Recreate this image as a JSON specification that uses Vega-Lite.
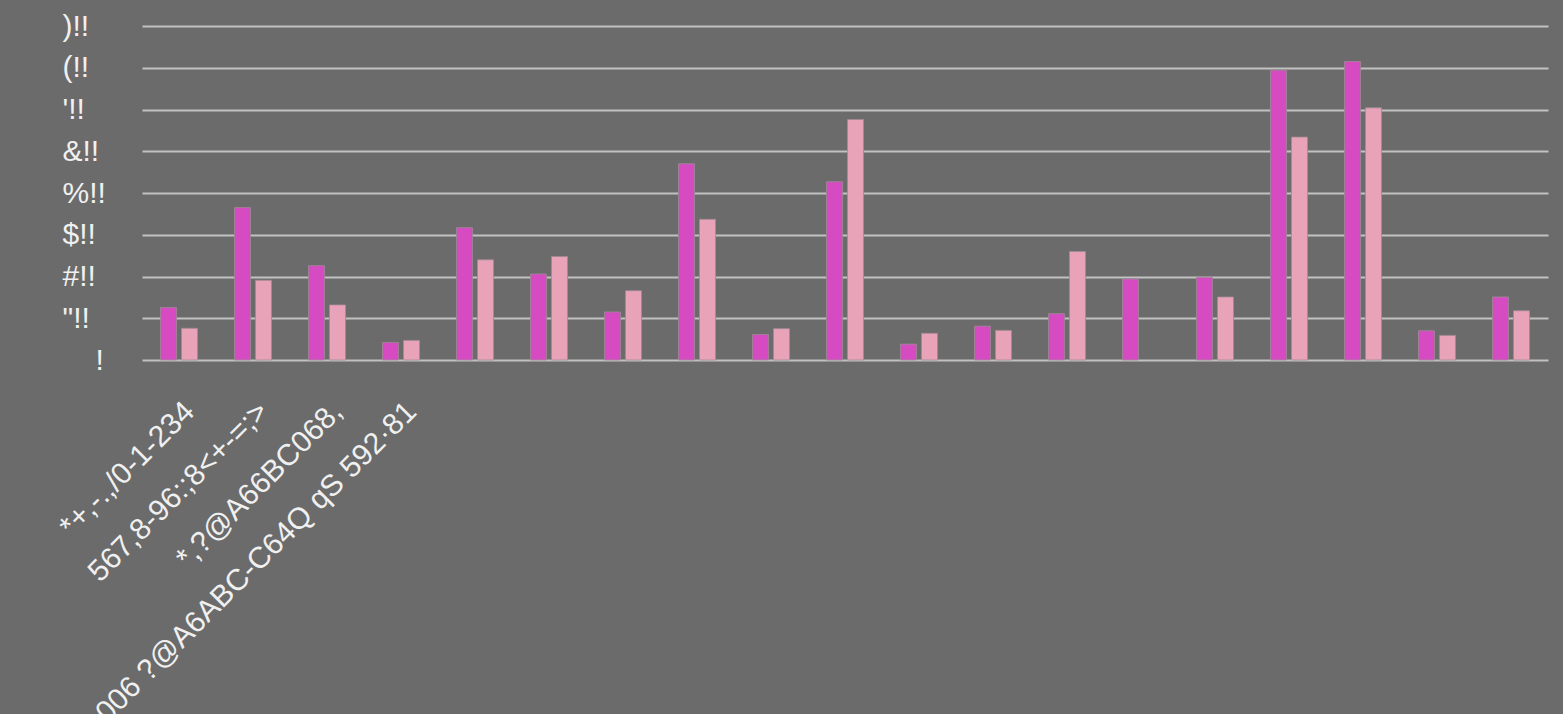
{
  "$schema": "https://vega.github.io/schema/vega-lite/v6.json",
  "width": 1406,
  "height": 334,
  "autosize": "none",
  "padding": {"left": 142, "top": 26, "right": 15, "bottom": 354},
  "background": "#6B6B6B",
  "config": {"view": {"stroke": null}, "font": "Liberation Sans"},
  "data": {
    "values": [
      {"g": 1, "s": "A", "v": 126}, {"g": 1, "s": "B", "v": 76},
      {"g": 2, "s": "A", "v": 365}, {"g": 2, "s": "B", "v": 191},
      {"g": 3, "s": "A", "v": 226}, {"g": 3, "s": "B", "v": 132},
      {"g": 4, "s": "A", "v": 42}, {"g": 4, "s": "B", "v": 47},
      {"g": 5, "s": "A", "v": 317}, {"g": 5, "s": "B", "v": 240},
      {"g": 6, "s": "A", "v": 206}, {"g": 6, "s": "B", "v": 248},
      {"g": 7, "s": "A", "v": 115}, {"g": 7, "s": "B", "v": 166},
      {"g": 8, "s": "A", "v": 470}, {"g": 8, "s": "B", "v": 337},
      {"g": 9, "s": "A", "v": 61}, {"g": 9, "s": "B", "v": 75},
      {"g": 10, "s": "A", "v": 427}, {"g": 10, "s": "B", "v": 576},
      {"g": 11, "s": "A", "v": 38}, {"g": 11, "s": "B", "v": 64},
      {"g": 12, "s": "A", "v": 81}, {"g": 12, "s": "B", "v": 71},
      {"g": 13, "s": "A", "v": 111}, {"g": 13, "s": "B", "v": 260},
      {"g": 14, "s": "A", "v": 194},
      {"g": 15, "s": "A", "v": 198}, {"g": 15, "s": "B", "v": 151},
      {"g": 16, "s": "A", "v": 694}, {"g": 16, "s": "B", "v": 534},
      {"g": 17, "s": "A", "v": 715}, {"g": 17, "s": "B", "v": 604},
      {"g": 18, "s": "A", "v": 70}, {"g": 18, "s": "B", "v": 59},
      {"g": 19, "s": "A", "v": 151}, {"g": 19, "s": "B", "v": 118}
    ]
  },
  "mark": {"type": "bar", "stroke": "#A08A96", "strokeWidth": 0.8},
  "encoding": {
    "x": {
      "field": "g",
      "type": "ordinal",
      "scale": {"paddingInner": 0.5, "paddingOuter": 0.25},
      "axis": {
        "title": null,
        "labelAngle": -45,
        "labelFontSize": 30,
        "labelColor": "#F0F0F0",
        "labelPadding": 36,
        "labelLimit": 2000,
        "labelOverlap": false,
        "ticks": false,
        "domain": false,
        "grid": false,
        "labelExpr": "['*+,-.,/0-1-234', '567,8-96:;8<+-=;>', '*,?@A66BC068,', '266·1006 ?@A6ABC-C64Q qS 592·81'][datum.value - 1] || ''"
      }
    },
    "xOffset": {"field": "s", "scale": {"paddingInner": 0.24}},
    "y": {
      "field": "v",
      "type": "quantitative",
      "scale": {"domain": [0, 800]},
      "axis": {
        "title": null,
        "values": [0, 100, 200, 300, 400, 500, 600, 700, 800],
        "grid": true,
        "gridColor": "#C2C2C2",
        "gridWidth": 2,
        "domain": false,
        "ticks": false,
        "labelAlign": "left",
        "labelPadding": {"condition": {"test": "datum.value === 0", "value": 47}, "value": 80},
        "labelFontSize": 30,
        "labelColor": "#F0F0F0",
        "labelExpr": "datum.value === 0 ? '!' : ['', '\"', '#', '$', '%', '&', \"'\", '(', ')'][datum.value / 100] + '!!'"
      }
    },
    "color": {
      "field": "s",
      "scale": {"domain": ["A", "B"], "range": ["#D64BC2", "#E8A3B9"]},
      "legend": null
    }
  }
}
